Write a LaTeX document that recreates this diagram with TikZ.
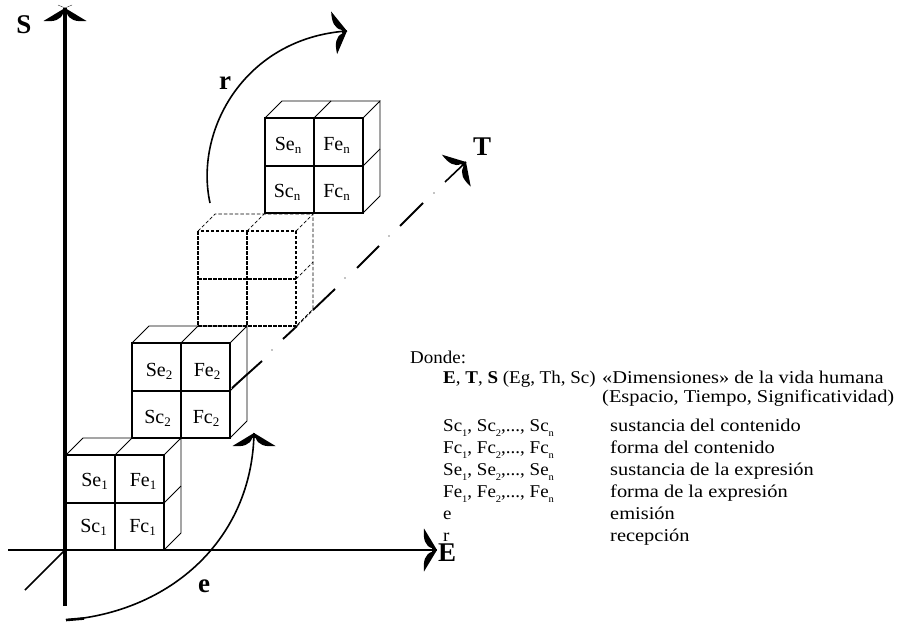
\documentclass[tikz,border=0pt]{standalone}
\usepackage{fontspec}
\setmainfont{Liberation Serif}
\newfontfamily\legendfont[FakeStretch=1.055]{Liberation Serif}
\newfontfamily\legendwide[FakeStretch=1.135]{Liberation Serif}
\newcommand{\sbs}[1]{\raisebox{-3.5pt}{\fontsize{13}{13}\selectfont #1}}
\newcommand{\lsb}[1]{\raisebox{-5pt}{\fontsize{10}{10}\selectfont #1}}
\tikzset{
  axisthin/.style={line width=1.6pt,black},
  axisthick/.style={line width=3.6pt,black},
  facet/.style={line width=2pt,black},
  depth/.style={line width=0.8pt,black},
  facetdash/.style={line width=1.3pt,black,dash pattern=on 3.5pt off 1.5pt},
  depthdash/.style={line width=0.7pt,black,dash pattern=on 3.5pt off 2pt},
  curvearc/.style={line width=1.6pt,black},
  dashseg/.style={line width=1.9pt,black},
  bold label/.style={font=\fontsize{27}{27}\selectfont\bfseries,inner sep=0pt},
  cell/.style={font=\fontsize{20}{20}\selectfont,inner sep=0pt,anchor=base},
  legend/.style={font=\fontsize{18}{18}\legendfont,inner sep=0pt,anchor=base west},
  legendright/.style={font=\fontsize{18}{18}\legendwide,inner sep=0pt,anchor=base west},
  barbtip/.pic={\fill[black] (0,0) -- (-13,21.5) .. controls (-14,11) and (-12,4) .. (-5,1.8) -- (-5,-1.8) .. controls (-12,-4) and (-14,-11) .. (-13,-21.5) -- cycle;}
}
% #1 left, #2 top, #3 front-face style, #4 depth style
\newcommand{\cubeframe}[4]{%
  \draw[#4] (#1+98,#2) -- ++(17,-17) -- ++(0,95) -- ++(-17,17);
  \draw[#4] (#1,#2) -- ++(17,-17) -- ++(98,0);
  \draw[#4] (#1+49,#2) -- ++(17,-17);
  \draw[#4] (#1+98,#2+48) -- ++(17,-17);
  \draw[#3] (#1,#2) rectangle ++(98,95);
  \draw[#3] (#1,#2+48) -- ++(98,0);
  \draw[#3] (#1+49,#2) -- ++(0,95);
}
\begin{document}
\begin{tikzpicture}[x=1pt,y=-1pt]
\useasboundingbox (0,0) rectangle (901,623);
\fill[white] (0,0) rectangle (901,623);
% named ends of axes
\coordinate (O) at (65,550);
\coordinate (Etip) at (437,550);
\coordinate (Eback) at (8,550);
\coordinate (Stip) at (65,8);
\coordinate (Sback) at (65,606);
\coordinate (Tback) at (25,590);
\coordinate (Ttip) at (466,162);
% cubes
\cubeframe{66}{455}{facet}{depth}
\cubeframe{132}{343}{facet}{depth}
\cubeframe{198}{231}{facetdash}{depthdash}
\cubeframe{265}{118}{facet}{depth}
% axes
\draw[axisthin] (Eback) -- (Etip);
\draw[axisthick] (Sback) -- (Stip);
\draw[axisthin] (Tback) -- (O);
\draw[dashseg] (232,388) -- (262,361);
\fill (272,350) circle (0.6);
\draw[dashseg] (283,339) -- (297,326);
\draw[depthdash] (297,326) -- (313,310);
\draw[dashseg] (313,310) -- (335,289);
\fill (345,278) circle (0.6);
\draw[dashseg] (357,268) -- (379,246);
\fill (389,236) circle (0.6);
\draw[dashseg] (400,226) -- (423,203);
\fill (434,193) circle (0.6);
\draw[axisthin] (445,182) -- (Ttip);
% arcs
\coordinate (eS) at (66,620);
\coordinate (eT) at (254,433);
\coordinate (rS) at (210,203);
\coordinate (rT) at (347,31);
\draw[curvearc] (eS) .. controls (170,612) and (252,540) .. (eT);
\draw[line width=2.6pt] (eS) -- (84,618.5);
\draw[curvearc] (rS) .. controls (194,130) and (245,38) .. (rT);
% arrowheads
\pic[rotate=90] at (Stip) {barbtip};
\draw[line width=0.3pt] (58,5) -- (Stip) -- (72,5);
\pic at (Etip) {barbtip};
\pic[rotate=42] at (Ttip) {barbtip};
\pic[rotate=90] at (eT) {barbtip};
\pic[rotate=8] at (rT) {barbtip};
% axis letters
\node[bold label] (lS) at (24,25) {S};
\node[bold label] (lE) at (447,553) {E};
\node[bold label] (lT) at (482,147) {T};
\node[bold label] (lr) at (225,83) {r};
\node[bold label] (le) at (204,586) {e};
% cell labels
\node[cell] (se1) at (94.5,486) {Se\sbs{1}};
\node[cell] (fe1) at (143,486) {Fe\sbs{1}};
\node[cell] (sc1) at (93.5,532) {Sc\sbs{1}};
\node[cell] (fc1) at (142.5,532) {Fc\sbs{1}};
\node[cell] (se2) at (159,376) {Se\sbs{2}};
\node[cell] (fe2) at (207,376) {Fe\sbs{2}};
\node[cell] (sc2) at (157.5,423) {Sc\sbs{2}};
\node[cell] (fc2) at (206,423) {Fc\sbs{2}};
\node[cell] (sen) at (288,150) {Se\sbs{n}};
\node[cell] (fen) at (336.5,150) {Fe\sbs{n}};
\node[cell] (scn) at (287,197) {Sc\sbs{n}};
\node[cell] (fcn) at (336.5,197) {Fc\sbs{n}};
% legend
\node[legend] (d0) at (410,363) {Donde:};
\node[legend] (a1) at (443,383) {\textbf{E}, \textbf{T}, \textbf{S} (Eg, Th, Sc)};
\node[legendright] (b1) at (602,383) {«Dimensiones» de la vida humana};
\node[legendright] (b2) at (602,402) {(Espacio, Tiempo, Significatividad)};
\node[legend] (a3) at (443,431) {Sc\lsb{1}, Sc\lsb{2},..., Sc\lsb{n}};
\node[legendright] (b3) at (610,431) {sustancia del contenido};
\node[legend] (a4) at (443,453) {Fc\lsb{1}, Fc\lsb{2},..., Fc\lsb{n}};
\node[legendright] (b4) at (610,453) {forma del contenido};
\node[legend] (a5) at (443,475) {Se\lsb{1}, Se\lsb{2},..., Se\lsb{n}};
\node[legendright] (b5) at (610,475) {sustancia de la expresión};
\node[legend] (a6) at (443,497) {Fe\lsb{1}, Fe\lsb{2},..., Fe\lsb{n}};
\node[legendright] (b6) at (610,497) {forma de la expresión};
\node[legend] (a7) at (443,519) {e};
\node[legendright] (b7) at (610,519) {emisión};
\node[legend] (a8) at (443,541) {r};
\node[legendright] (b8) at (610,541) {recepción};
\end{tikzpicture}
\end{document}
